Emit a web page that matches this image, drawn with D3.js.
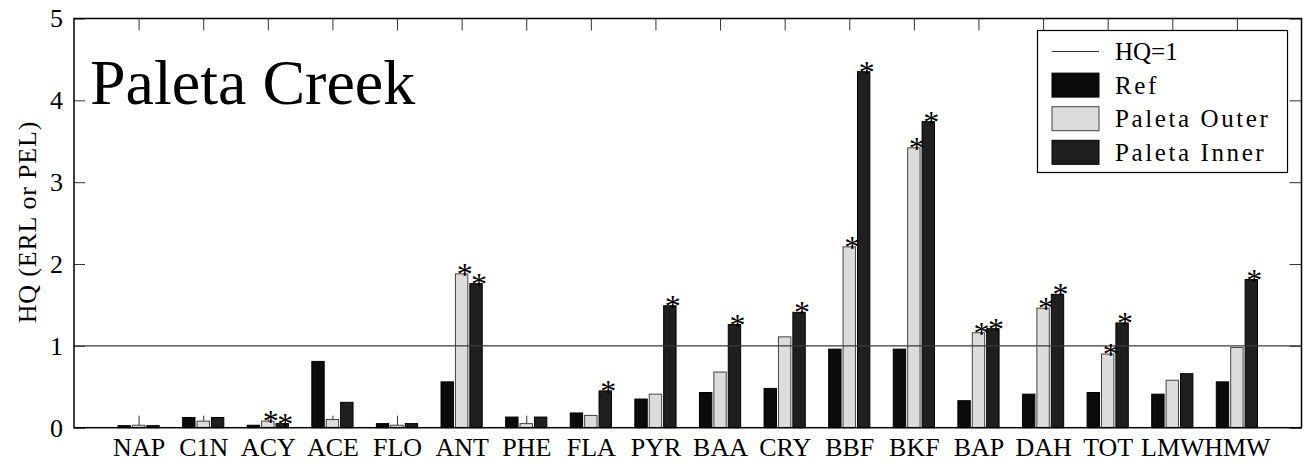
<!DOCTYPE html>
<html>
<head>
<meta charset="utf-8">
<script src="https://cdn.jsdelivr.net/npm/d3@7"></script>
<style>
  html, body { margin: 0; padding: 0; background: #fff; }
  svg { display: block; }
  text { font-family: "Liberation Serif", "Times New Roman", serif; fill: #000; }
</style>
</head>
<body>
<svg id="chart" width="1307" height="466"></svg>
<script>
// PAH compounds and the hazard quotient (HQ) per station group
const categories = ["NAP","C1N","ACY","ACE","FLO","ANT","PHE","FLA","PYR","BAA","CRY","BBF","BKF","BAP","DAH","TOT","LMW","HMW"];
const refValues   = [0.025,0.125,0.03,0.81,0.05,0.56,0.13,0.18,0.35,0.43,0.48,0.96,0.96,0.33,0.41,0.43,0.41,0.56];
const outerValues = [0.03,0.08,0.08,0.10,0.03,1.88,0.05,0.15,0.41,0.68,1.11,2.21,3.42,1.16,1.46,0.90,0.58,0.98];
const innerValues = [0.025,0.125,0.05,0.31,0.05,1.76,0.13,0.45,1.49,1.26,1.41,4.35,3.74,1.21,1.63,1.28,0.66,1.81];
// significance markers (*) for the Paleta groups
const outerSignificant = [0,0,1,0,0,1,0,0,0,0,0,1,1,1,1,1,0,0];
const innerSignificant = [0,0,1,0,0,1,0,1,1,1,1,1,1,1,1,1,0,1];
const yTicks = [0,1,2,3,4,5];
const seriesNames = ["Ref","Paleta Outer","Paleta Inner"];
const seriesFill = ["#0b0b0b","#dcdcdc","#1f1f1f"];
const seriesStroke = ["#000","#444","#000"];
const threshold = 1;

const svg = d3.select("#chart");
const plotLeft = 74, plotRight = 1301.5, plotTop = 18.5, plotBottom = 427.7;

const x = d3.scaleLinear().domain([0, categories.length + 1]).range([plotLeft, plotRight]);
const y = d3.scaleLinear().domain([0, 5]).range([plotBottom, plotTop]);
const offset = d3.scaleBand().domain(d3.range(3)).range([-20.6, 20.6]).paddingInner(0.14);

const catIdx = d3.range(1, categories.length + 1);

// axes: ticks point into the plot
svg.append("g")
  .attr("transform", `translate(${plotLeft},0)`)
  .call(d3.axisLeft(y).tickValues(yTicks).tickFormat(d3.format("d"))
        .tickSizeInner(-11).tickSizeOuter(0).tickPadding(11))
  .call(g => g.select(".domain").remove())
  .call(g => g.selectAll("line").attr("stroke", "#333"))
  .call(g => g.selectAll("text").attr("font-size", 26).attr("font-family", null));

svg.append("g")
  .attr("transform", `translate(${plotRight},0)`)
  .call(d3.axisRight(y).tickValues(yTicks).tickSizeInner(-12).tickSizeOuter(0).tickFormat(""))
  .call(g => g.select(".domain").remove())
  .call(g => g.selectAll("line").attr("stroke", "#333"));

svg.append("g")
  .attr("transform", `translate(0,${plotBottom})`)
  .call(d3.axisBottom(x).tickValues(catIdx).tickFormat(i => categories[i - 1])
        .tickSizeInner(-12).tickSizeOuter(0).tickPadding(10))
  .call(g => g.select(".domain").remove())
  .call(g => g.selectAll("line").attr("stroke", "#333"))
  .call(g => g.selectAll("text").attr("font-size", 26).attr("font-family", null));

svg.append("g")
  .attr("transform", `translate(0,${plotTop})`)
  .call(d3.axisTop(x).tickValues(catIdx).tickSizeInner(-12).tickSizeOuter(0).tickFormat(""))
  .call(g => g.select(".domain").remove())
  .call(g => g.selectAll("line").attr("stroke", "#333"));

// grouped bars
const series = [refValues, outerValues, innerValues];
series.forEach((vals, s) => {
  svg.append("g").selectAll("rect")
    .data(vals)
    .join("rect")
    .attr("x", (d, i) => x(i + 1) + offset(s))
    .attr("y", d => y(d))
    .attr("width", offset.bandwidth())
    .attr("height", d => y(0) - y(d))
    .attr("fill", seriesFill[s])
    .attr("stroke", seriesStroke[s])
    .attr("stroke-width", 1);
});

// HQ = 1 reference line
svg.append("line")
  .attr("x1", plotLeft).attr("x2", plotRight)
  .attr("y1", y(threshold)).attr("y2", y(threshold))
  .attr("stroke", "#3a3a3a").attr("stroke-width", 1.2);

// significance asterisks
[[outerValues, outerSignificant, 1], [innerValues, innerSignificant, 2]].forEach(([vals, sig, s]) => {
  svg.append("g").selectAll("text")
    .data(vals.map((v, i) => ({ v, i })).filter(d => sig[d.i]))
    .join("text")
    .attr("x", d => x(d.i + 1) + offset(s) + offset.bandwidth() / 2 + 3)
    .attr("y", d => y(d.v) + 11)
    .attr("text-anchor", "middle")
    .attr("font-size", 32)
    .attr("fill", "#000")
    .text("*");
});

// plot frame
svg.append("rect")
  .attr("x", plotLeft).attr("y", plotTop)
  .attr("width", plotRight - plotLeft).attr("height", plotBottom - plotTop)
  .attr("fill", "none").attr("stroke", "#000").attr("stroke-width", 1.5);

// title inside the plot
svg.append("text")
  .attr("x", 90).attr("y", 104)
  .attr("font-size", 64)
  .text("Paleta Creek");

// y axis title
svg.append("text")
  .attr("transform", `translate(36,222) rotate(-90)`)
  .attr("text-anchor", "middle")
  .attr("font-size", 26)
  .attr("letter-spacing", 0.8)
  .text("HQ (ERL or PEL)");

// legend
const lg = svg.append("g");
lg.append("rect")
  .attr("x", 1037.5).attr("y", 30.5).attr("width", 250).attr("height", 142)
  .attr("fill", "#fff").attr("stroke", "#000").attr("stroke-width", 1.2);
const rowY = i => 51.5 + i * 33.6;
lg.append("line")
  .attr("x1", 1052).attr("x2", 1099).attr("y1", rowY(0)).attr("y2", rowY(0))
  .attr("stroke", "#333").attr("stroke-width", 1);
seriesNames.forEach((name, s) => {
  lg.append("rect")
    .attr("x", 1052).attr("y", rowY(s + 1) - 12).attr("width", 47).attr("height", 24)
    .attr("fill", seriesFill[s]).attr("stroke", seriesStroke[s]).attr("stroke-width", 1);
});
["HQ=1"].concat(seriesNames).forEach((name, i) => {
  lg.append("text")
    .attr("x", 1115).attr("y", rowY(i) + 8.5)
    .attr("font-size", 25)
    .attr("letter-spacing", i === 0 ? 0 : 2.6)
    .text(name);
});
</script>
</body>
</html>
